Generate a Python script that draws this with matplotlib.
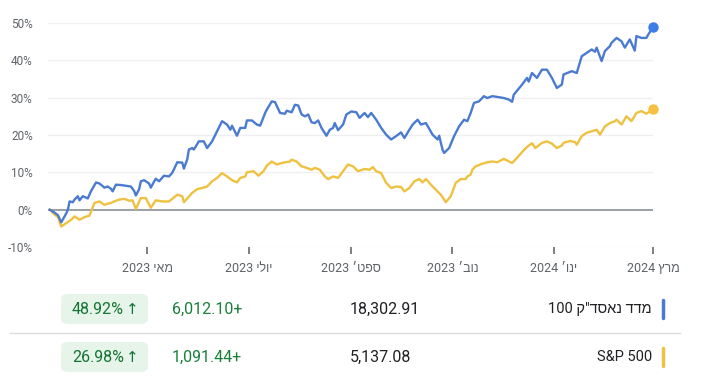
import re
import matplotlib
matplotlib.use("Agg")
import matplotlib.pyplot as plt
from matplotlib.patches import FancyBboxPatch
import pandas as pd

plt.rcParams['font.family'] = ['Roboto', 'Liberation Sans', 'DejaVu Sans']

START = pd.Timestamp("2023-03-03")

# day offsets from START and % change
ndx_days = [0, 3, 5, 7, 10, 11, 12, 14, 15, 17, 18, 20, 22, 23, 25, 28, 30, 32, 33, 35,
            37, 38, 40, 43, 46, 49, 51, 52, 54, 55, 57, 60, 61, 63, 64, 66, 69, 72, 74, 77,
            80, 81, 83, 84, 86, 87, 90, 93, 95, 98, 101, 104, 107, 109, 110, 113, 115, 118, 119, 122,
            125, 127, 130, 131, 134, 136, 139, 142, 143, 146, 148, 150, 152, 154, 156, 158, 160, 162, 164, 167,
            169, 171, 172, 174, 177, 179, 182, 185, 187, 190, 192, 194, 197, 200, 203, 206, 209, 212, 214, 217,
            219, 222, 224, 227, 231, 234, 235, 237, 238, 241, 244, 247, 250, 252, 254, 256, 259, 262, 264, 267,
            270, 274, 277, 279, 280, 285, 288, 289, 291, 294, 297, 300, 303, 306, 309, 310, 315, 318, 321, 324,
            327, 329, 330, 333, 335, 338, 339, 342, 345, 347, 350, 353, 354, 357, 360, 361, 364]
ndx_pct = [0, -0.8, -1.5, -3.4, -1.0, 0, 2.2, 2.0, 2.7, 3.6, 2.5, 3.6, 3.2, 3.0, 5.0, 7.3, 7.0, 6.3, 5.9, 6.2,
           5.6, 4.9, 6.7, 6.6, 6.4, 6.2, 5.0, 3.8, 5.5, 7.6, 7.9, 7.0, 5.9, 7.5, 8.3, 7.6, 9.1, 8.9, 9.9, 12.7,
           12.6, 11.0, 13.5, 16.1, 16.5, 16.1, 18.3, 18.3, 16.5, 18.3, 21.0, 23.7, 22.8, 21.4, 22.5, 19.8, 21.9, 21.9, 23.9, 23.9,
           22.8, 22.5, 25.9, 26.8, 29.0, 28.8, 25.9, 25.7, 26.5, 26.1, 28.1, 27.9, 25.5, 25.0, 25.5, 23.4, 23.2, 23.9, 21.9, 19.8,
           21.4, 21.9, 23.2, 21.3, 22.8, 25.5, 26.3, 26.1, 24.6, 25.9, 24.8, 25.9, 24.1, 21.9, 20.1, 18.8, 19.7, 20.7, 19.2, 21.4,
           22.8, 24.1, 22.8, 23.2, 20.1, 18.8, 19.8, 16.1, 15.2, 16.5, 19.7, 22.3, 24.1, 23.7, 25.9, 28.6, 29.0, 30.4, 29.9, 30.4,
           30.2, 29.9, 29.5, 28.9, 30.8, 33.5, 35.3, 34.3, 36.6, 35.3, 37.5, 37.5, 35.3, 32.6, 33.5, 36.2, 37.1, 36.6, 41.1, 42.0,
           42.9, 42.3, 43.4, 39.8, 42.5, 43.8, 44.7, 46.0, 45.1, 43.4, 45.6, 42.6, 46.5, 46.0, 46.0, 46.8, 48.92]

spx_days = [0, 3, 5, 7, 10, 13, 15, 18, 21, 24, 27, 30, 33, 35, 37, 40, 42, 45, 48, 50,
            52, 55, 58, 61, 64, 68, 72, 77, 80, 81, 84, 86, 89, 92, 95, 98, 101, 104, 107, 110,
            113, 115, 118, 119, 123, 126, 129, 131, 134, 137, 140, 145, 146, 149, 152, 155, 158, 160, 163, 166,
            168, 171, 174, 177, 180, 183, 186, 190, 193, 195, 197, 200, 203, 206, 209, 212, 214, 217, 220, 223,
            225, 227, 230, 234, 236, 239, 242, 245, 248, 251, 252, 254, 255, 257, 261, 264, 267, 270, 274, 279,
            282, 286, 288, 291, 293, 297, 300, 303, 306, 309, 310, 314, 317, 318, 321, 324, 330, 332, 335, 338,
            341, 342, 345, 348, 351, 354, 357, 360, 364]
spx_pct = [0, -1.3, -2.0, -4.5, -3.6, -2.7, -1.8, -2.7, -2.0, -1.6, 1.8, 2.2, 1.3, 1.6, 1.8, 2.4, 2.7, 2.9, 2.4, 2.5,
           0.2, 3.1, 3.1, 0.5, 2.5, 2.2, 2.2, 4.0, 3.6, 2.0, 3.5, 4.5, 5.5, 5.8, 6.2, 7.6, 8.5, 9.8, 8.9, 7.9,
           7.3, 8.5, 8.9, 10.0, 10.3, 9.1, 10.3, 11.8, 12.9, 12.1, 12.5, 12.9, 13.4, 12.9, 11.6, 11.2, 10.7, 11.2, 10.7, 8.9,
           8.2, 8.9, 8.5, 10.3, 12.1, 11.6, 10.3, 10.9, 10.7, 11.4, 10.3, 9.8, 7.2, 5.8, 6.2, 6.1, 4.9, 5.8, 7.6, 8.2,
           7.3, 8.2, 6.7, 4.9, 4.0, 2.0, 3.6, 7.2, 8.2, 8.2, 8.9, 9.4, 10.7, 11.6, 12.3, 12.7, 12.9, 12.7, 13.6, 12.5,
           13.9, 15.9, 16.8, 17.8, 16.5, 17.9, 18.3, 17.7, 16.5, 17.2, 17.9, 18.4, 18.1, 17.4, 19.7, 20.6, 21.4, 20.1, 22.3, 23.2,
           23.7, 24.1, 22.8, 25.0, 23.7, 25.9, 26.4, 25.7, 26.98]

tick_dates = ["2023-05-01", "2023-07-01", "2023-09-01", "2023-11-01", "2024-01-01", "2024-03-01"]
tick_labels = ["מאי 2023", "יולי 2023", "ספט׳ 2023", "נוב׳ 2023", "ינו׳ 2024", "מרץ 2024"]

names = ['מדד נאסד"ק 100', "S&P 500"]
prices = ["18,302.91", "5,137.08"]
changes = ["+6,012.10", "+1,091.44"]
pct_changes = ["48.92%", "26.98%"]

BLUE = "#4a7bd0"
YELLOW = "#efc140"
GREY = "#5f6368"


def visual(s):
    # matplotlib does no bidi, so flip RTL text and keep number/latin runs as they are
    out = s[::-1]
    return re.sub(r"[0-9A-Za-z&.,%]+", lambda m: m.group(0)[::-1], out)


def ltr_sign(s):
    # in the RTL page the leading + is shown at the end
    return s[1:] + s[0]


fig = plt.figure(figsize=(7.16, 3.82), dpi=100)
ax = fig.add_axes([48 / 716, 1 - 247 / 382, 605 / 716, 224 / 382])

ndx_x = START + pd.to_timedelta(ndx_days, unit="D")
spx_x = START + pd.to_timedelta(spx_days, unit="D")

for y in [-10, 10, 20, 30, 40, 50]:
    ax.axhline(y, color="#efefef", lw=0.9, zorder=0)
ax.axhline(0, color="#9aa0a6", lw=1.4, zorder=1)

ax.plot(spx_x, spx_pct, color=YELLOW, lw=1.7, zorder=2)
ax.plot(ndx_x, ndx_pct, color=BLUE, lw=1.7, zorder=3)
ax.plot(spx_x[-1], spx_pct[-1], "o", color="#f6c143", ms=6.5, clip_on=False, zorder=4)
ax.plot(ndx_x[-1], ndx_pct[-1], "o", color="#3f7de6", ms=6.5, clip_on=False, zorder=4)

ax.set_xlim(pd.Timestamp("2023-03-02"), pd.Timestamp("2024-03-01"))
ax.set_ylim(-10, 50)
ax.set_yticks([-10, 0, 10, 20, 30, 40, 50])
ax.set_yticklabels([f"{v}%" for v in [-10, 0, 10, 20, 30, 40, 50]])
ax.set_xticks(pd.to_datetime(tick_dates))
ax.set_xticklabels([visual(t) for t in tick_labels])

for s in ax.spines.values():
    s.set_visible(False)
ax.tick_params(axis="y", length=0, pad=11, labelsize=8.5, labelcolor=GREY)
ax.tick_params(axis="x", length=5, width=1.3, color="#70757a", pad=6, labelsize=9, labelcolor=GREY)

# table under the chart
row_y = [1 - 309 / 382, 1 - 357 / 382]
line_colors = [BLUE, YELLOW]
fig.add_artist(plt.Line2D([10 / 716, 680 / 716], [1 - 333 / 382] * 2, color="#dadce0", lw=1))

for i in range(2):
    yy = row_y[i]
    fig.add_artist(plt.Line2D([663 / 716] * 2, [yy - 9 / 382, yy + 9 / 382], color=line_colors[i], lw=2.5,
                              solid_capstyle="round"))
    fig.text(652 / 716, yy, visual(names[i]) if i == 0 else names[i], ha="right", va="center",
             fontsize=10.5, color="#202124")
    fig.text(350 / 716, yy, prices[i], ha="left", va="center", fontsize=11.5, color="#202124")
    fig.text(172 / 716, yy, ltr_sign(changes[i]), ha="left", va="center", fontsize=11.5, color="#188038")
    badge = FancyBboxPatch((61 / 716, yy - 15 / 382), 87 / 716, 30 / 382,
                           boxstyle="round,pad=0,rounding_size=0.012",
                           transform=fig.transFigure, fc="#e6f4ea", ec="none")
    fig.add_artist(badge)
    fig.text(124 / 716, yy, pct_changes[i], ha="right", va="center", fontsize=11.5, color="#137333")
    fig.text(126 / 716, yy, "↑", ha="left", va="center", fontsize=11, color="#137333",
             family=["DejaVu Sans"])

fig.savefig("out.png", dpi=100)
